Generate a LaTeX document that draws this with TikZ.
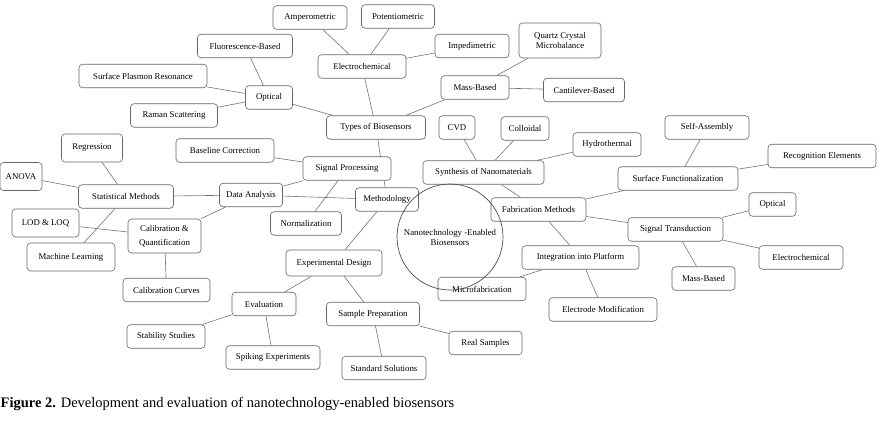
\documentclass[tikz,border=0pt]{standalone}
\usepackage{fontspec}
\setmainfont{Liberation Serif}
\usetikzlibrary{positioning,backgrounds}

\begin{document}
\begin{tikzpicture}
[x=1pt,y=-1pt,
n/.style={draw=black!60,fill=white,rounded corners=3.5pt,line width=0.6pt,inner xsep=3pt,inner ysep=0pt,minimum height=23.5pt,align=center,font=\fontsize{8.8}{10.7}\selectfont},
wd/.style={minimum width=#1pt},
ln/.style={draw=black!55,line width=0.6pt}]
\useasboundingbox (0,0) rectangle (882,420);
\node[n,wd=99] (0) at (376,127.5) {Types of Biosensors};
\node[n,wd=88] (1) at (362,66.5) {Electrochemical};
\node[n,wd=74] (2) at (310,17.5) {Amperometric};
\node[n,wd=73] (3) at (398,16.5) {Potentiometric};
\node[n,wd=74] (4) at (472,46) {Impedimetric};
\node[n,wd=47] (5) at (269,97.5) {Optical};
\node[n,wd=95] (6) at (245,46) {Fluorescence-Based};
\node[n,wd=128] (7) at (143,76) {Surface Plasmon Resonance};
\node[n,wd=87] (8) at (174,115.5) {Raman Scattering};
\node[n,wd=68] (9) at (475,87.5) {Mass-Based};
\node[n,wd=82,minimum height=35pt] (10) at (560,40.5) {Quartz Crystal\\Microbalance};
\node[n,wd=81] (11) at (584,90) {Cantilever-Based};
\node[n,wd=63] (12) at (387,199.5) {Methodology};
\node[n,wd=88] (13) at (347,168.5) {Signal Processing};
\node[n,wd=98] (14) at (225,150.5) {Baseline Correction};
\node[n,wd=71] (15) at (306,223.5) {Normalization};
\node[n,wd=63] (16) at (251,195) {Data Analysis};
\node[n,wd=95] (17) at (126,196.5) {Statistical Methods};
\node[n,wd=61,minimum height=28pt] (18) at (92,148) {Regression};
\node[n,wd=42,minimum height=28pt] (19) at (21,176.5) {ANOVA};
\node[n,wd=88,minimum height=28pt] (20) at (71,257) {Machine Learning};
\node[n,wd=73,minimum height=34pt,font=\fontsize{8.8}{14.3}\selectfont] (21) at (164.5,236) {Calibration \&\\Quantification};
\node[n,wd=67,minimum height=28pt] (22) at (45.5,223) {LOD \& LOQ};
\node[n,wd=87] (23) at (166.5,290) {Calibration Curves};
\node[n,wd=96,minimum height=26pt] (24) at (334,263) {Experimental Design};
\node[n,wd=64] (25) at (264,304) {Evaluation};
\node[n,wd=78] (26) at (166,336.5) {Stability Studies};
\node[n,wd=94] (27) at (273,357.5) {Spiking Experiments};
\node[n,wd=93] (28) at (373,314) {Sample Preparation};
\node[n,wd=73] (29) at (485.5,343) {Real Samples};
\node[n,wd=84] (30) at (384,368) {Standard Solutions};
\node[n,wd=121] (31) at (483.5,172.5) {Synthesis of Nanomaterials};
\node[n,wd=36] (32) at (457,127.5) {CVD};
\node[n,wd=48] (33) at (525,128.5) {Colloidal};
\node[n,wd=68] (34) at (607,144.5) {Hydrothermal};
\node[n,wd=95] (35) at (538.5,209.5) {Fabrication Methods};
\node[n,wd=120] (36) at (678,178.5) {Surface Functionalization};
\node[n,wd=84] (37) at (707,127.5) {Self-Assembly};
\node[n,wd=108] (38) at (822,156) {Recognition Elements};
\node[n,wd=95] (39) at (675.5,229.5) {Signal Transduction};
\node[n,wd=47] (40) at (772.5,204.5) {Optical};
\node[n,wd=84] (41) at (801,257.5) {Electrochemical};
\node[n,wd=63] (42) at (703.5,278.5) {Mass-Based};
\node[n,wd=117] (43) at (580.5,257.5) {Integration into Platform};
\node[n,wd=88] (44) at (482,289) {Microfabrication};
\node[n,wd=108] (45) at (603,309.5) {Electrode Modification};
\begin{scope}[on background layer]
\draw[ln] (1) -- (2);
\draw[ln] (1) -- (3);
\draw[ln] (1) -- (4);
\draw[ln] (1) -- (0);
\draw[ln] (5) -- (6);
\draw[ln] (5) -- (7);
\draw[ln] (5) -- (8);
\draw[ln] (5) -- (0);
\draw[ln] (9) -- (0);
\draw[ln] (9) -- (10);
\draw[ln] (9) -- (11);
\draw[ln] (0) -- (12);
\draw[ln] (13) -- (14);
\draw[ln] (13) -- (15);
\draw[ln] (13) -- (16);
\draw[ln] (16) -- (12);
\draw[ln] (16) -- (17);
\draw[ln] (16) -- (21);
\draw[ln] (17) -- (18);
\draw[ln] (17) -- (19);
\draw[ln] (17) -- (20);
\draw[ln] (21) -- (22);
\draw[ln] (21) -- (23);
\draw[ln] (12) -- (24);
\draw[ln] (24) -- (25);
\draw[ln] (24) -- (28);
\draw[ln] (25) -- (26);
\draw[ln] (25) -- (27);
\draw[ln] (28) -- (29);
\draw[ln] (28) -- (30);
\draw[ln] (31) -- (32);
\draw[ln] (31) -- (33);
\draw[ln] (31) -- (34);
\draw[ln] (31) -- (35);
\draw[ln] (35) -- (36);
\draw[ln] (35) -- (39);
\draw[ln] (35) -- (43);
\draw[ln] (36) -- (37);
\draw[ln] (36) -- (38);
\draw[ln] (39) -- (40);
\draw[ln] (39) -- (41);
\draw[ln] (39) -- (42);
\draw[ln] (43) -- (44);
\draw[ln] (43) -- (45);
\end{scope}
\node[circle,draw=black!70,line width=0.7pt,minimum size=106pt,align=center,font=\fontsize{8.8}{10}\selectfont] (46) at (450,237) {Nanotechnology -Enabled\\Biosensors};
\node[anchor=base west,inner sep=0pt,font=\fontsize{14.5}{16}\selectfont] (47) at (0.5,407.5) {\textbf{Figure 2.} Development and evaluation of nanotechnology-enabled biosensors};
\end{tikzpicture}
\end{document}
